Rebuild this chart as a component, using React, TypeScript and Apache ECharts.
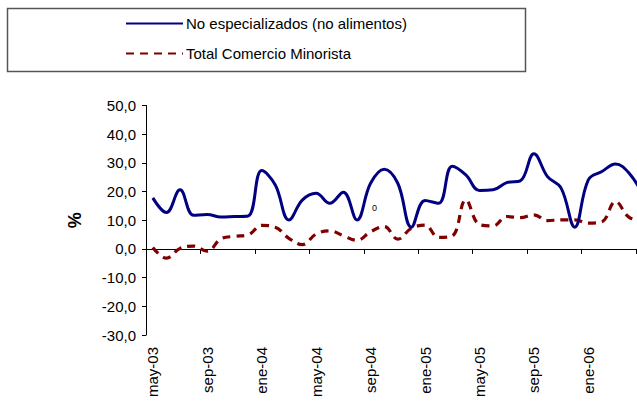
import React, { useEffect, useRef } from "react";
import * as echarts from "echarts";

const months = [
  "may-03", "jun-03", "jul-03", "ago-03", "sep-03", "oct-03", "nov-03", "dic-03",
  "ene-04", "feb-04", "mar-04", "abr-04", "may-04", "jun-04", "jul-04", "ago-04",
  "sep-04", "oct-04", "nov-04", "dic-04", "ene-05", "feb-05", "mar-05", "abr-05",
  "may-05", "jun-05", "jul-05", "ago-05", "sep-05", "oct-05", "nov-05", "dic-05",
  "ene-06", "feb-06", "mar-06", "abr-06", "may-06",
];

const noEspecializados = [
  17.8, 12.7, 20.6, 11.7, 12.0, 11.1, 11.3, 11.5,
  27.3, 22.3, 10.1, 17.1, 19.4, 15.9, 19.8, 10.1,
  22.9, 27.8, 22.9, 7.6, 16.9, 15.9, 28.8, 25.8,
  20.4, 20.6, 23.1, 23.7, 33.2, 25.2, 21.2, 7.6,
  24.1, 27.0, 29.6, 26.4, 19.0,
];

const totalMinorista = [
  0.5, -3.2, 0.2, 1.0, -0.8, 3.5, 4.4, 4.9,
  8.2, 7.6, 3.7, 1.5, 5.2, 6.3, 4.6, 3.0,
  6.0, 7.8, 3.4, 7.2, 8.3, 4.0, 4.5, 17.1,
  8.5, 8.0, 11.3, 10.9, 11.9, 9.9, 10.1, 10.1,
  9.0, 9.5, 16.5, 11.0, 10.0,
];

const seriesNames = ["No especializados (no alimentos)", "Total Comercio Minorista"];
const yTitle = "%";
const strayLabel = "0";

const FONT = "'Liberation Sans', Arial, sans-serif";

export default function App() {
  const ref = useRef<HTMLDivElement>(null);

  useEffect(() => {
    if (!ref.current) return;
    const chart = echarts.init(ref.current, undefined, { renderer: "svg" });
    const catW = 13.61;
    chart.setOption({
      animation: false,
      backgroundColor: "#ffffff",
      textStyle: { fontFamily: FONT },
      grid: { left: 146, top: 105.5, width: catW * months.length, height: 229.5 },
      legend: {
        orient: "vertical",
        left: 125,
        top: 16,
        itemWidth: 57,
        itemHeight: 14,
        itemGap: 15,
        padding: 0,
        itemStyle: { opacity: 0, borderWidth: 0 },
        textStyle: { fontSize: 15, color: "#000", fontFamily: FONT, padding: [0, 0, 0, -2] },
        data: seriesNames,
      },
      xAxis: [
        {
          type: "category",
          data: months,
          boundaryGap: true,
          axisLine: { onZero: true, lineStyle: { color: "#000", width: 1 } },
          axisTick: { show: true, interval: 3, length: 5, lineStyle: { color: "#000" } },
          axisLabel: { show: false },
          splitLine: { show: false },
        },
        {
          type: "category",
          data: months,
          boundaryGap: true,
          position: "bottom",
          axisLine: { show: false, onZero: false },
          axisTick: { show: false },
          axisLabel: {
            show: true,
            interval: 3,
            rotate: 90,
            margin: 12,
            fontSize: 15,
            color: "#000",
            fontFamily: FONT,
          },
          splitLine: { show: false },
        },
      ],
      yAxis: {
        type: "value",
        min: -30,
        max: 50,
        interval: 10,
        name: yTitle,
        nameLocation: "middle",
        nameRotate: 90,
        nameGap: 62,
        nameTextStyle: { fontSize: 18, fontWeight: "bold", color: "#000", fontFamily: FONT },
        axisLine: { show: true, lineStyle: { color: "#000", width: 1 } },
        axisTick: { show: true, length: 4, lineStyle: { color: "#000" } },
        axisLabel: {
          margin: 10,
          fontSize: 15,
          color: "#000",
          fontFamily: FONT,
          formatter: (v: number) => v.toFixed(1).replace(".", ","),
        },
        splitLine: { show: false },
      },
      series: [
        {
          name: seriesNames[0],
          type: "line",
          data: noEspecializados,
          smooth: 0.4,
          symbol: "none",
          lineStyle: { color: "#000080", width: 3 },
          itemStyle: { color: "#000080" },
          z: 3,
        },
        {
          name: seriesNames[1],
          type: "line",
          data: totalMinorista,
          smooth: 0.4,
          symbol: "none",
          lineStyle: { color: "#800000", width: 3.2, type: [8, 6] },
          itemStyle: { color: "#800000" },
          z: 2,
        },
      ],
      graphic: [
        {
          type: "rect",
          shape: { x: 7.5, y: 8.5, width: 518, height: 63 },
          style: { fill: "none", stroke: "#555", lineWidth: 1.5 },
          silent: true,
        },
        {
          type: "text",
          x: 372,
          y: 203,
          style: { text: strayLabel, fontSize: 9, fill: "#000", fontFamily: FONT },
          silent: true,
        },
      ],
    });
    return () => chart.dispose();
  }, []);

  return (
    <div
      style={{
        position: "absolute",
        left: 0,
        top: 0,
        width: 637,
        height: 401,
        overflow: "hidden",
        background: "#fff",
      }}
    >
      <div ref={ref} style={{ width: 700, height: 401 }} />
    </div>
  );
}
